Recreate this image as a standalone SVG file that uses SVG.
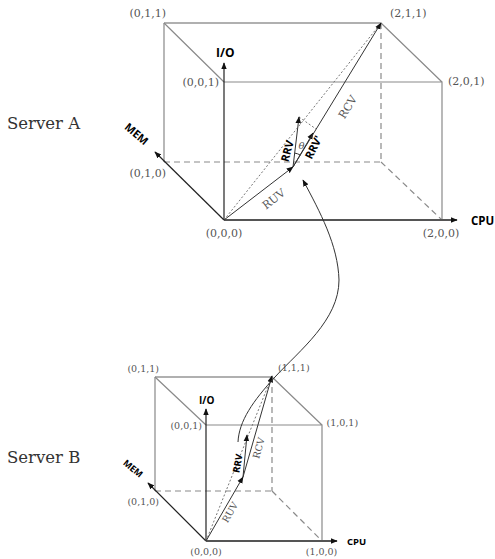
<svg xmlns="http://www.w3.org/2000/svg" width="495" height="559" viewBox="0 0 495 559">
<style>
.bg{fill:#fff}
.edge{stroke:#8a8a8a;stroke-width:1.2;fill:none}
.back{stroke:#b0b0b0;stroke-width:1.8;fill:none}
.dash{stroke:#8a8a8a;stroke-width:1.2;stroke-dasharray:6,4;fill:none}
.axis{stroke:#222;stroke-width:1.2;fill:none}
.cpu{stroke:#555;stroke-width:2;fill:none}
.vec{stroke:#333;stroke-width:1;fill:none}
.dot{stroke:#777;stroke-width:1;stroke-dasharray:2,2;fill:none}
.coord{font-family:"DejaVu Serif","Liberation Serif",serif;fill:#555}
.ax{font-family:"Open Sans","Liberation Sans",sans-serif;font-weight:bold;fill:#000}
.vl{font-family:"DejaVu Serif","Liberation Serif",serif;fill:#555}
.srv{font-family:"DejaVu Serif","Liberation Serif",serif;fill:#333;font-size:16.5px}
</style>
<defs>
<marker id="ah" viewBox="0 0 10 10" refX="9" refY="5" markerWidth="7" markerHeight="7" markerUnits="userSpaceOnUse" orient="auto">
<path d="M0,1 L10,5 L0,9 Z" fill="#111"/>
</marker>
</defs>
<rect class="bg" x="0" y="0" width="495" height="559"/>

<text class="srv" x="7" y="128.5">Server A</text>
<text class="srv" x="7" y="463">Server B</text>

<g id="cubeA">
<path class="back" d="M164,23 L381,23"/>
<path class="back" d="M164,23 L164,162"/>
<path class="edge" d="M164,23 L224,82 M381,23 L442,82 M224,82 L442,82 L442,220"/>
<path class="dash" d="M164,162 L381,162 M381,23 L381,162 M381,162 L442,220"/>
<path class="axis" d="M224,220 L224,63" marker-end="url(#ah)"/>
<path class="axis" d="M224,220 L155,152" marker-end="url(#ah)"/>
<path class="cpu" d="M224,220 L457,220" marker-end="url(#ah)"/>
<text class="ax" x="216" y="57" font-size="12">I/O</text>
<text class="ax" x="0" y="0" font-size="11" text-anchor="middle" transform="translate(134,137) rotate(40)">MEM</text>
<text class="ax" x="471" y="225" font-size="11.5">CPU</text>
<text class="coord" x="166" y="17" font-size="11" text-anchor="end">(0,1,1)</text>
<text class="coord" x="219" y="86" font-size="11" text-anchor="end">(0,0,1)</text>
<text class="coord" x="390" y="17" font-size="11">(2,1,1)</text>
<text class="coord" x="448" y="85" font-size="11">(2,0,1)</text>
<text class="coord" x="166" y="177" font-size="11" text-anchor="end">(0,1,0)</text>
<text class="coord" x="224" y="237" font-size="11" text-anchor="middle">(0,0,0)</text>
<text class="coord" x="441" y="237" font-size="11" text-anchor="middle">(2,0,0)</text>
</g>

<g id="vectorsA">
<path class="dot" d="M224,220 L381,23"/>
<path class="dot" d="M299,117 L316,129"/>
<path class="vec" d="M224,220 L293,167" marker-end="url(#ah)"/>
<path class="vec" d="M293,167 L299,117" marker-end="url(#ah)"/>
<path class="vec" d="M293,167 L313,133" marker-end="url(#ah)"/>
<path class="vec" d="M293,167 L381,23" marker-end="url(#ah)"/>
<path class="vec" stroke-width="0.8" d="M294.7,153.1 A14,14 0 0 1 300.3,155.1"/>
<text class="vl" x="0" y="0" font-size="11" text-anchor="middle" transform="translate(276,202) rotate(-37.5)">RUV</text>
<text class="vl" x="0" y="0" font-size="11" text-anchor="middle" transform="translate(351,109) rotate(-58.6)">RCV</text>
<text class="ax" x="0" y="0" font-size="11" text-anchor="middle" transform="translate(291,152) rotate(-75)">RRV</text>
<text class="ax" x="0" y="0" font-size="11" text-anchor="middle" transform="translate(317,149) rotate(-63)">RRV'</text>
<text class="vl" x="301.5" y="149" font-size="10" font-style="italic" text-anchor="middle">θ</text>
</g>

<g id="cubeB">
<path class="back" d="M155,377 L272,377"/>
<path class="back" d="M155,377 L155,491"/>
<path class="edge" d="M155,377 L206,425 M272,377 L322,425 M206,425 L322,425 L322,541"/>
<path class="dash" d="M155,491 L272,491 M272,377 L272,491 M272,491 L322,541"/>
<path class="axis" d="M206,541 L206,409" marker-end="url(#ah)"/>
<path class="axis" d="M206,541 L148,483" marker-end="url(#ah)"/>
<path class="cpu" d="M206,541 L337,541" marker-end="url(#ah)"/>
<text class="ax" x="199" y="404" font-size="10">I/O</text>
<text class="ax" x="0" y="0" font-size="9" text-anchor="middle" transform="translate(131,471) rotate(40)">MEM</text>
<text class="ax" x="347" y="545" font-size="9.5">CPU</text>
<text class="coord" x="159" y="372" font-size="9.5" text-anchor="end">(0,1,1)</text>
<text class="coord" x="202" y="428.5" font-size="9.5" text-anchor="end">(0,0,1)</text>
<text class="coord" x="278" y="370.5" font-size="9.5">(1,1,1)</text>
<text class="coord" x="326.5" y="425.5" font-size="9.5">(1,0,1)</text>
<text class="coord" x="159" y="505" font-size="9.5" text-anchor="end">(0,1,0)</text>
<text class="coord" x="206" y="555" font-size="9.5" text-anchor="middle">(0,0,0)</text>
<text class="coord" x="321.5" y="555" font-size="9.5" text-anchor="middle">(1,0,0)</text>
</g>

<g id="vectorsB">
<path class="dot" d="M206,541 L272,376"/>
<path class="vec" d="M206,541 L243,477" marker-end="url(#ah)"/>
<path class="vec" d="M243,477 L247,435" marker-end="url(#ah)"/>
<path class="vec" d="M243,477 L272,376" marker-end="url(#ah)"/>
<text class="vl" x="0" y="0" font-size="9.5" text-anchor="middle" transform="translate(233,514) rotate(-60)">RUV</text>
<text class="ax" x="0" y="0" font-size="9.5" text-anchor="middle" transform="translate(241,464) rotate(-80)">RRV</text>
<text class="vl" x="0" y="0" font-size="9.5" text-anchor="middle" transform="translate(262,449) rotate(-74)">RCV</text>
</g>

<g id="connectors">
<path class="vec" d="M238,442 C239,421 253,401 275,377 C300,350 339,320 339,280 C338,245 320,212 303,180" marker-end="url(#ah)"/>
</g>
</svg>
